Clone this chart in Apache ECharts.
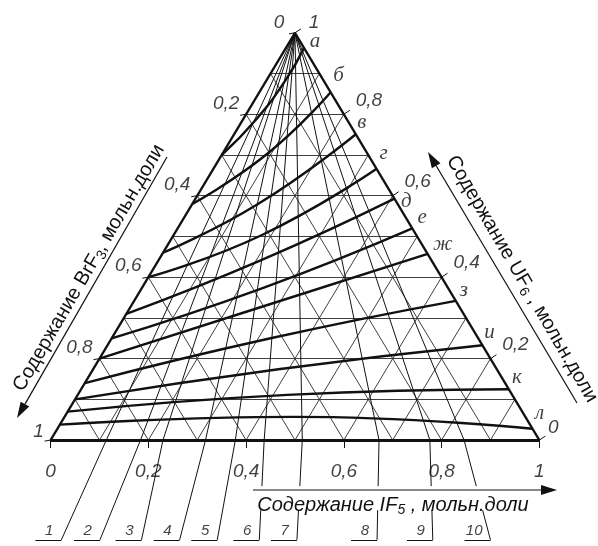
<!DOCTYPE html>
<html>
<head>
<meta charset="utf-8">
<title>IF5 - BrF3 - UF6</title>
<script src="https://cdn.jsdelivr.net/npm/echarts@6.0.0/dist/echarts.min.js"></script>
<style>
  html, body { margin: 0; padding: 0; background: #fff; }
  #chart { width: 598px; height: 546px; }
</style>
</head>
<body>
<div id="chart"></div>
<script>
// составы задаются как [IF5, UF6], BrF3 = 1 - IF5 - UF6
const gridSteps = [0.1, 0.2, 0.3, 0.4, 0.5, 0.6, 0.7, 0.8, 0.9];
const axisTicks = [0, 0.2, 0.4, 0.6, 0.8, 1];
const tickLabels = ["0", "0,2", "0,4", "0,6", "0,8", "1"];

// жирные кривые а ... л (от стороны BrF3-UF6 к стороне IF5-UF6)
const curveNames = ["а", "б", "в", "г", "д", "е", "ж", "з", "и", "к", "л"];
const curveA = [[0, 0.70], [0.027, 0.788], [0.039, 0.885], [0.037, 0.963]];
const curveB = [[0, 0.58], [0.092, 0.703], [0.146, 0.854]];
const curveV = [[0, 0.46], [0.134, 0.579], [0.249, 0.751]];
const curveG = [[0, 0.40], [0.18, 0.503], [0.334, 0.666]];
const curveD = [[0, 0.31], [0.21, 0.442], [0.407, 0.593]];
const curveE = [[0, 0.25], [0.245, 0.372], [0.48, 0.52]];
const curveZh = [[0, 0.20], [0.27, 0.328], [0.543, 0.457]];
const curveZ = [[0, 0.14], [0.325, 0.25], [0.658, 0.342]];
const curveI = [[0, 0.10], [0.379, 0.174], [0.767, 0.233]];
const curveK = [[0, 0.07], [0.429, 0.111], [0.875, 0.125]];
const curveL = [[0, 0.038], [0.47, 0.057], [0.972, 0.028]];
const curves = [curveA, curveB, curveV, curveG, curveD, curveE, curveZh, curveZ, curveI, curveK, curveL];

// тонкие линии 1 ... 10 из вершины UF6: где пересекают основание и куда ведут выноски
const rayNames = ["1", "2", "3", "4", "5", "6", "7", "8", "9", "10"];
const rayBaseIF5 = [0.114, 0.184, 0.230, 0.317, 0.378, 0.437, 0.515, 0.672, 0.776, 0.846];
const rayLabelIF5 = [0.022, 0.101, 0.186, 0.264, 0.341, 0.427, 0.504, 0.668, 0.782, 0.900];

// подписи букв: сдвиг от конца кривой, px
const curveLabelOffset = [[11, -6], [8, -17], [6, -12], [7, -15], [12, 3], [10, -11], [15, -9], [8, -10], [7, -13], [8, -12], [7, -15]];

const U_ARROW = -0.113;  // уровень стрелки IF5
const U_TITLE = -0.172;  // низ подписи оси IF5
const U_LABEL = -0.245;  // уровень номеров 1..10

const PXX = 1 / 490, PXY = 1 / 410.5;

// тернарный состав -> декартовы координаты
const P = (if5, uf6) => [if5 + uf6 / 2, uf6];
const leaderAt = (i, u) => [rayBaseIF5[i] + (rayLabelIF5[i] - rayBaseIF5[i]) * (u / U_LABEL), u];

const chart = echarts.init(document.getElementById("chart"));

// сетка 0.1
const gridLines = [];
gridSteps.forEach((s) => {
  gridLines.push({ coords: [P(0, s), P(1 - s, s)] });
  gridLines.push({ coords: [P(s, 0), P(s, 1 - s)] });
  gridLines.push({ coords: [P(1 - s, 0), P(0, 1 - s)] });
});

// тонкие линии и выноски
const rayLines = [];
rayBaseIF5.forEach((b, i) => {
  rayLines.push({ coords: [P(0, 1), P(b, 0)] });
  const mid = leaderAt(i, U_ARROW);
  if (mid[0] > 0.41) {
    rayLines.push({ coords: [P(b, 0), mid] });
    rayLines.push({ coords: [leaderAt(i, U_TITLE), leaderAt(i, U_LABEL)] });
  } else {
    rayLines.push({ coords: [P(b, 0), leaderAt(i, U_LABEL)] });
  }
  const e = rayLabelIF5[i];
  rayLines.push({ coords: [[e - 26 * PXX, U_LABEL], [e, U_LABEL]] });
});

// засечки на сторонах
const tickLines = [];
axisTicks.forEach((v) => {
  tickLines.push({ coords: [[v, 0], [v, -8 * PXY]] });
  const l = P(0, 1 - v);
  tickLines.push({ coords: [l, [l[0] - 6 * PXX, l[1] - 1 * PXY]] });
  const r = P(1 - v, v);
  tickLines.push({ coords: [r, [r[0] + 6 * PXX, r[1] + 4 * PXY]] });
});

const edgeLines = [
  { coords: [P(0, 0), P(0, 1)] },
  { coords: [P(1, 0), P(0, 1)] }
];

const numFont = { fontFamily: "Liberation Sans, Arial, sans-serif", fontStyle: "italic", fontSize: 19, color: "#111" };

const labelItem = (pt, text, off, extra) => ({
  value: [pt[0], pt[1], text],
  label: Object.assign({ offset: off }, extra || {})
});

const tickLabelData = [];
axisTicks.forEach((v, i) => {
  tickLabelData.push(labelItem([v, 0], tickLabels[i], [0, 32]));
  // BrF3 по левой стороне: 0 у вершины, 1 внизу
  const l = P(0, 1 - v);
  let lo = [-20, -11];
  if (v === 0) lo = [-16, -10];
  if (v === 1) lo = [-12, -8];
  tickLabelData.push(labelItem(l, tickLabels[i], lo));
  // UF6 по правой стороне: 0 внизу, 1 у вершины
  const r = P(1 - v, v);
  let ro = [25, -14];
  if (v === 0) ro = [14, -12];
  if (v === 1) ro = [19, -10];
  tickLabelData.push(labelItem(r, tickLabels[i], ro));
});

const curveLabelData = curves.map((c, i) => {
  const end = c[c.length - 1];
  return labelItem(P(end[0], end[1]), curveNames[i], curveLabelOffset[i]);
});

const rayLabelData = rayNames.map((n, i) =>
  labelItem([rayLabelIF5[i], U_LABEL], n, [-8, -9], { align: "right" }));

const series = [
  {
    type: "lines", coordinateSystem: "cartesian2d", silent: true,
    lineStyle: { color: "#2a2a2a", width: 0.9, opacity: 1 },
    data: gridLines, z: 1
  },
  {
    type: "lines", coordinateSystem: "cartesian2d", silent: true,
    lineStyle: { color: "#111", width: 1, opacity: 1 },
    data: rayLines.concat(tickLines), z: 2
  },
  {
    type: "lines", coordinateSystem: "cartesian2d", silent: true,
    lineStyle: { color: "#111", width: 2.3, opacity: 1 },
    data: edgeLines, z: 4
  },
  {
    type: "lines", coordinateSystem: "cartesian2d", silent: true,
    lineStyle: { color: "#111", width: 3.2, opacity: 1 },
    data: [{ coords: [P(0, 0), P(1, 0)] }], z: 4
  }
];

curves.forEach((c, i) => {
  series.push({
    type: "line", name: curveNames[i], silent: true,
    data: c.map((p) => P(p[0], p[1])),
    smooth: 0.5,
    symbol: "none",
    lineStyle: { color: "#111", width: 2.4 },
    z: 3
  });
});

const labelSeries = (data, font) => ({
  type: "scatter", silent: true,
  symbolSize: 1, itemStyle: { color: "rgba(0,0,0,0)" },
  data: data,
  label: Object.assign({
    show: true, position: "inside",
    formatter: (p) => p.value[2]
  }, font),
  z: 6
});

series.push(labelSeries(tickLabelData, numFont));
series.push(labelSeries(curveLabelData, {
  fontFamily: "Liberation Serif, Times New Roman, serif", fontStyle: "italic", fontSize: 21, color: "#111"
}));
series.push(labelSeries(rayLabelData, {
  fontFamily: "Liberation Sans, Arial, sans-serif", fontStyle: "italic", fontSize: 15, color: "#111"
}));

const titleRich = (italic) => ({
  t: { fontFamily: "Liberation Sans, Arial, sans-serif", fontStyle: italic ? "italic" : "normal", fontSize: 20, fill: "#111" },
  s: { fontFamily: "Liberation Sans, Arial, sans-serif", fontStyle: italic ? "italic" : "normal", fontSize: 14, fill: "#111", padding: [10, 0, 0, 0] }
});

const arrowHead = (tip, from, len, half) => {
  const dx = tip[0] - from[0], dy = tip[1] - from[1];
  const d = Math.hypot(dx, dy);
  const ux = dx / d, uy = dy / d;
  const bx = tip[0] - ux * len, by = tip[1] - uy * len;
  return [tip, [bx - uy * half, by + ux * half], [bx + uy * half, by - ux * half]];
};

const arrows = [
  { from: [253, 490], tip: [557, 490] },
  { from: [167, 157], tip: [17, 418] },
  { from: [577, 403], tip: [428, 152] }
];

const graphic = [];
arrows.forEach((a) => {
  const head = arrowHead(a.tip, a.from, 16, 5);
  const bx = (head[1][0] + head[2][0]) / 2, by = (head[1][1] + head[2][1]) / 2;
  graphic.push({ type: "line", shape: { x1: a.from[0], y1: a.from[1], x2: bx, y2: by }, style: { stroke: "#111", lineWidth: 1.2 }, z: 10 });
  graphic.push({ type: "polygon", shape: { points: head }, style: { fill: "#111" }, z: 10 });
});
graphic.push({
  type: "text", x: 393, y: 505, z: 10,
  style: { text: "{t|Содержание IF}{s|5}{t| , мольн.доли}", rich: titleRich(true), align: "center", verticalAlign: "middle" }
});
graphic.push({
  type: "text", x: 89, y: 268, rotation: 59.8 * Math.PI / 180, z: 10,
  style: { text: "{t|Содержание BrF}{s|3}{t|, мольн.доли}", rich: titleRich(false), align: "center", verticalAlign: "middle" }
});
graphic.push({
  type: "text", x: 522, y: 279, rotation: -59.8 * Math.PI / 180, z: 10,
  style: { text: "{t|Содержание UF}{s|6}{t| , мольн.доли}", rich: titleRich(false), align: "center", verticalAlign: "middle" }
});

chart.setOption({
  animation: false,
  backgroundColor: "#fff",
  grid: { left: 50.7 - 0.1 * 490, top: 33 - 0.06 * 410.5, width: 1.22 * 490, height: 1.32 * 410.5, containLabel: false },
  xAxis: { type: "value", min: -0.1, max: 1.12, show: false },
  yAxis: { type: "value", min: -0.26, max: 1.06, show: false },
  series: series,
  graphic: graphic
});
</script>
</body>
</html>
